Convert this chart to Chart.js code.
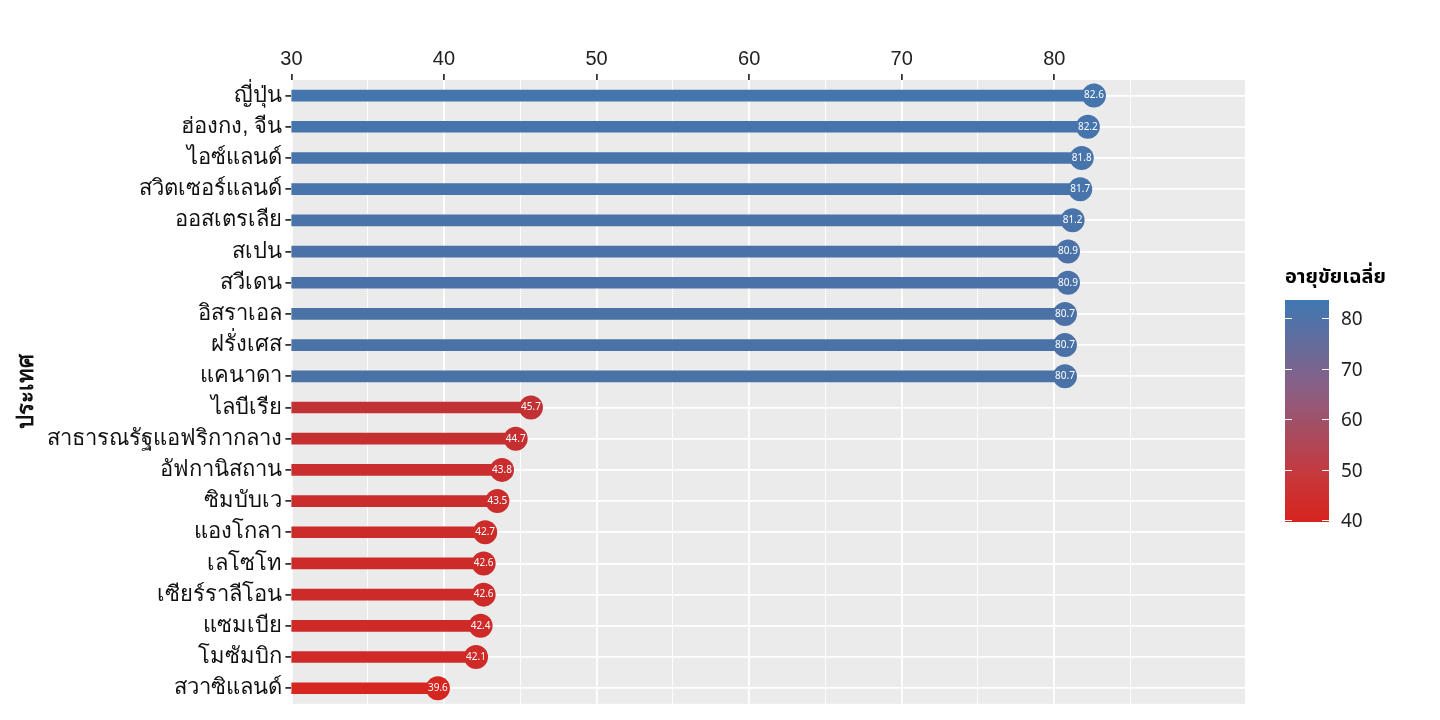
<!DOCTYPE html>
<html><head><meta charset="utf-8">
<script src="https://cdn.jsdelivr.net/npm/chart.js@4"></script>
<style>
body{margin:0;background:#fff;font-family:"Noto Sans","Noto Sans Thai",sans-serif}
#wrap{position:relative;width:1440px;height:720px}
#legend{position:absolute;left:1285px;top:262px;font-size:20px}
#legend .t{font-weight:bold;margin-bottom:8px}
#bar{position:absolute;left:0;top:38px;width:44px;height:222px;background:linear-gradient(to bottom,#3f78b2 0%,#8a5f84 40%,#c8373a 80%,#d7231d 100%)}
.lb{position:absolute;left:56px;font-size:19px;color:#222;line-height:26px}
.tk{position:absolute;height:1px;width:7px;background:#fff}
</style></head><body>
<div id="wrap">
<canvas id="c" width="1440" height="720"></canvas>
<div id="legend"><div class="t">อายุขัยเฉลี่ย</div><div id="bar"></div></div>
</div>
<script>
const countries = ['ญี่ปุ่น','ฮ่องกง, จีน','ไอซ์แลนด์','สวิตเซอร์แลนด์','ออสเตรเลีย','สเปน','สวีเดน','อิสราเอล','ฝรั่งเศส','แคนาดา','ไลบีเรีย','สาธารณรัฐแอฟริกากลาง','อัฟกานิสถาน','ซิมบับเว','แองโกลา','เลโซโท','เซียร์ราลีโอน','แซมเบีย','โมซัมบิก','สวาซิแลนด์'];
const lifeExp = [82.6,82.2,81.8,81.7,81.2,80.9,80.9,80.7,80.7,80.7,45.7,44.7,43.8,43.5,42.7,42.6,42.6,42.4,42.1,39.6];
const legendTicks = [80,70,60,50,40];

// สีตามค่า: 40 = แดง, 84 = น้ำเงิน
function colorFor(v) {
    const t = Math.max(0, Math.min(1, (v - 40) / 44));
    const a = [214, 38, 32], b = [63, 120, 178];
    const c = a.map((x, i) => Math.round(x + (b[i] - x) * t));
    return `rgb(${c.join(',')})`;
}
const cols = lifeExp.map(colorFor);

// legend ticks
const bar = document.getElementById('bar');
legendTicks.forEach(v => {
    const y = 38 + (84 - v) / 44 * 222 - 2;
    const l = document.createElement('div');
    l.className = 'lb'; l.textContent = v; l.style.top = (y - 13) + 'px';
    document.getElementById('legend').appendChild(l);
    ['0px', '37px'].forEach(x => {
        const t = document.createElement('div');
        t.className = 'tk'; t.style.left = x; t.style.top = (y - 38) + 'px';
        bar.appendChild(t);
    });
});

const pointLabels = {
    id: 'pointLabels',
    afterDatasetsDraw(chart) {
        const ctx = chart.ctx;
        const meta = chart.getDatasetMeta(1);
        ctx.save();
        ctx.fillStyle = '#fff';
        ctx.font = '10px "Noto Sans"';
        ctx.textAlign = 'center';
        ctx.textBaseline = 'middle';
        meta.data.forEach((p, i) => ctx.fillText(lifeExp[i].toFixed(1), p.x, p.y));
        ctx.restore();
    }
};

const bgPlugin = {
    id: 'bg',
    beforeDraw(chart) {
        const a = chart.chartArea, ctx = chart.ctx;
        ctx.save(); ctx.fillStyle = '#ebebeb';
        ctx.fillRect(a.left, a.top, a.right - a.left, a.bottom - a.top);
        ctx.restore();
    }
};

new Chart(document.getElementById('c'), {
    data: {
        labels: countries,
        datasets: [
            { type: 'bar', data: lifeExp, backgroundColor: cols, barThickness: 11 },
            { type: 'line', data: lifeExp, showLine: false, pointRadius: 12, pointHoverRadius: 12,
              pointBackgroundColor: cols, pointBorderWidth: 0 }
        ]
    },
    options: {
        indexAxis: 'y',
        responsive: false,
        animation: false,
        layout: { padding: { top: 44, right: 195, bottom: 8, left: 10 } },
        plugins: { legend: { display: false }, tooltip: { enabled: false } },
        scales: {
            x: {
                position: 'top', min: 30, max: 92.5,
                ticks: { stepSize: 5, color: '#222', font: { size: 20 },
                    callback: v => v % 10 === 0 ? v : '' },
                grid: { color: '#fff', lineWidth: c => c.tick && c.tick.value % 10 === 0 ? 1.8 : 0.9,
                    tickLength: 6, tickColor: c => c.tick && c.tick.value % 10 === 0 ? '#333' : 'rgba(0,0,0,0)' },
                border: { display: false }
            },
            y: {
                ticks: { color: '#111', font: { size: 22 } },
                grid: { color: '#fff', lineWidth: 1.8, offset: false, tickLength: 6, tickColor: '#333' },
                border: { display: false },
                title: { display: true, text: 'ประเทศ', color: '#111', font: { size: 22, weight: 'bold' } }
            }
        }
    },
    plugins: [bgPlugin, pointLabels]
});
</script>
</body></html>
